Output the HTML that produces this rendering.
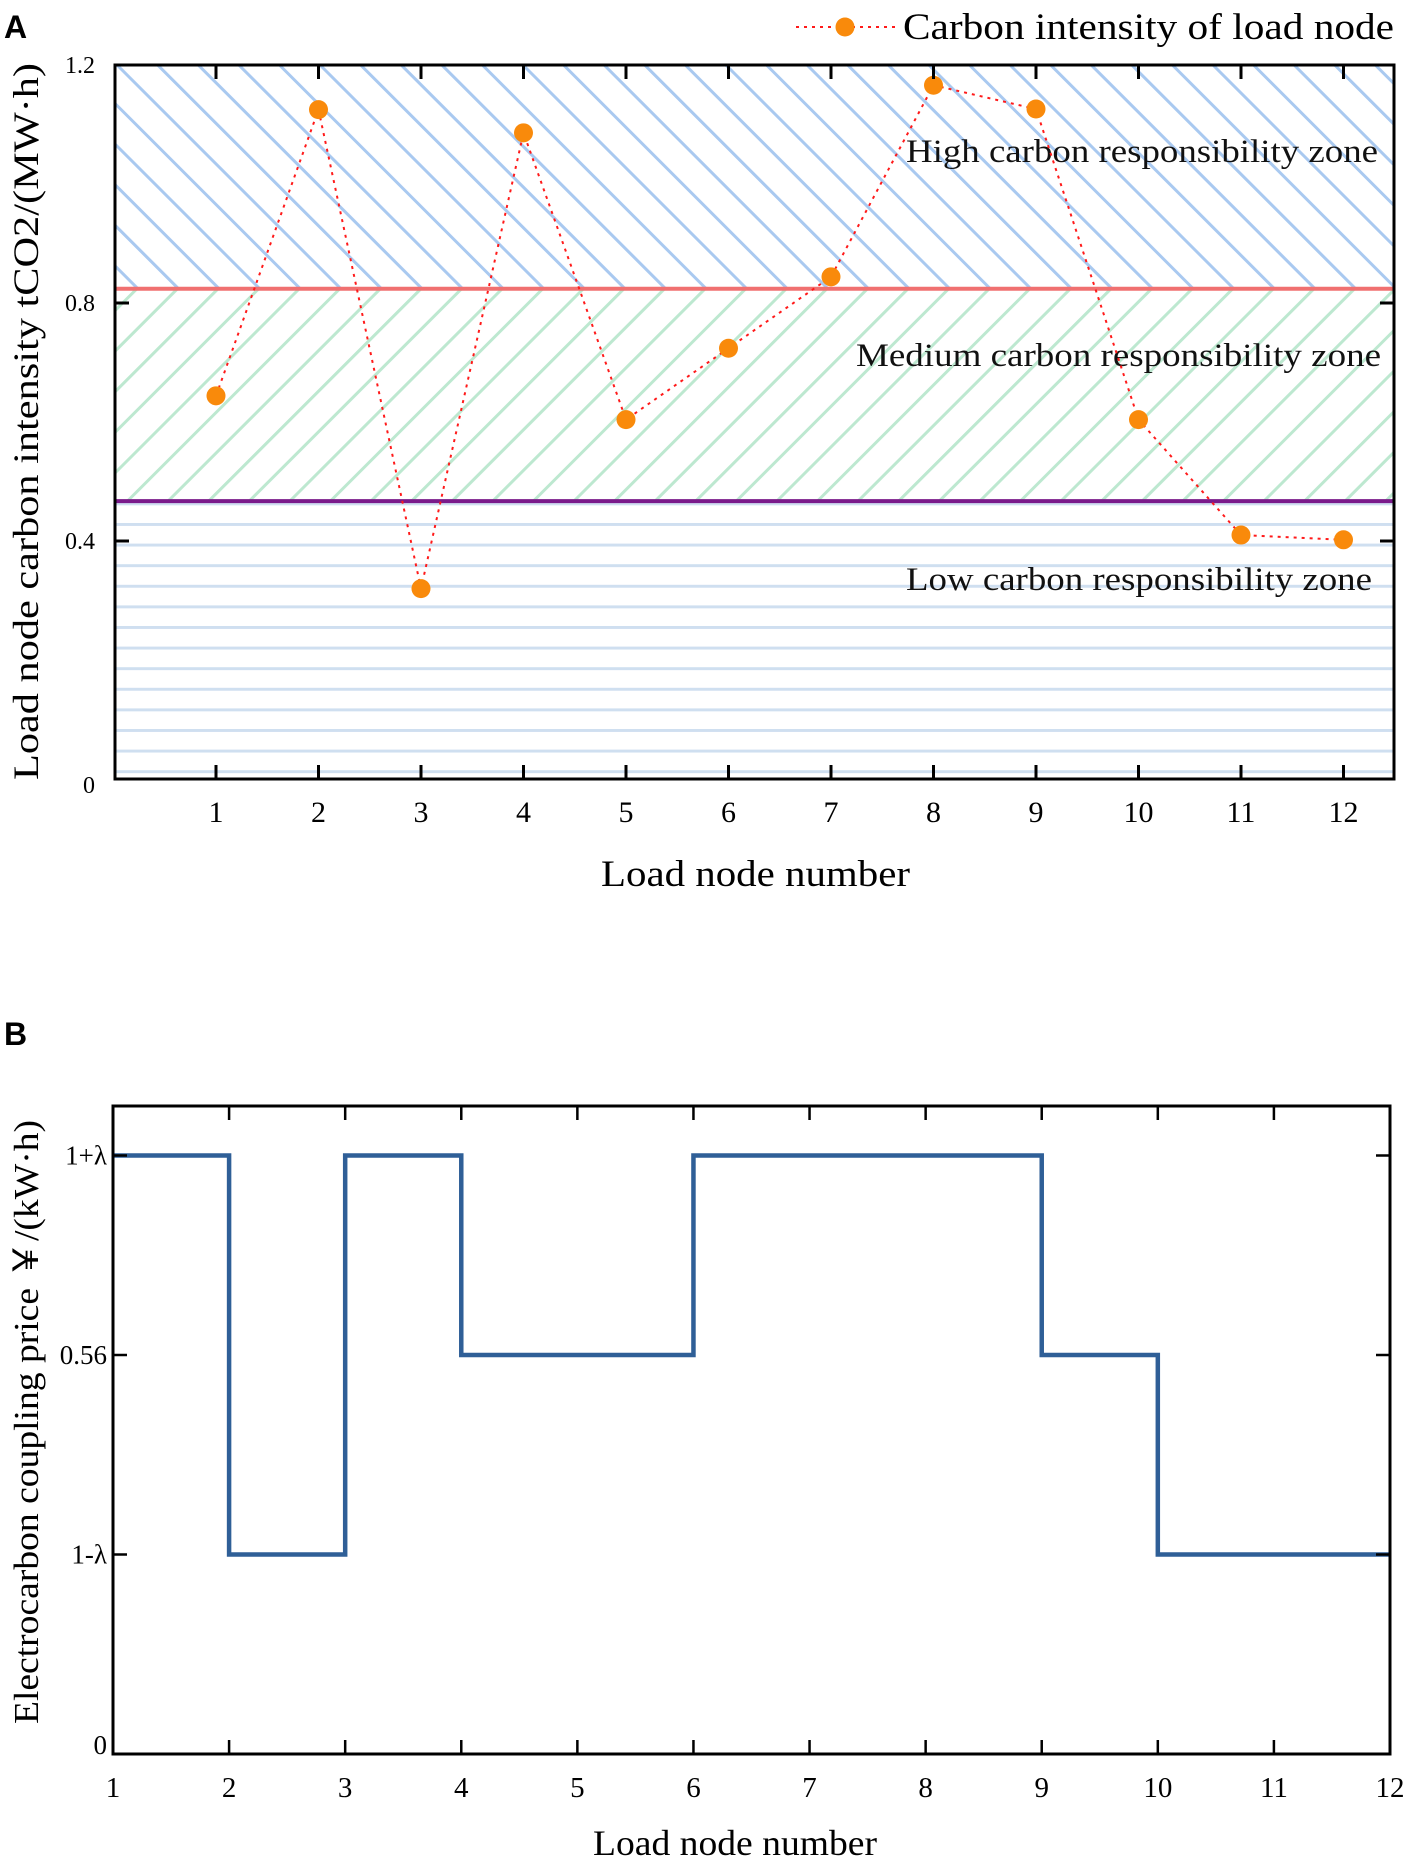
<!DOCTYPE html>
<html><head><meta charset="utf-8"><style>
html,body{margin:0;padding:0;background:#fff;}
svg{display:block;font-family:"Liberation Serif",serif;}
</style></head><body>
<svg id="fig" width="1408" height="1859" viewBox="0 0 1408 1859" xmlns="http://www.w3.org/2000/svg">
<defs>
<pattern id="hatchHigh" patternUnits="userSpaceOnUse" width="28.7" height="28.7" patternTransform="translate(115,65) rotate(-45)">
<line x1="0" y1="0" x2="0" y2="28.7" stroke="#a9c9f0" stroke-width="6"/>
</pattern>
<pattern id="hatchMed" patternUnits="userSpaceOnUse" width="28.7" height="28.7" patternTransform="translate(115,65) rotate(45)">
<line x1="0" y1="0" x2="0" y2="28.7" stroke="#bde8d0" stroke-width="6"/>
</pattern>
<pattern id="hatchLow" patternUnits="userSpaceOnUse" width="40" height="20.6" patternTransform="translate(0,523)">
<line x1="0" y1="0" x2="40" y2="0" stroke="#cfdff0" stroke-width="6"/>
</pattern>
</defs>
<g id="panelA"></g>
<g id="panelB"></g>
</svg>
<script>
// Panel A data
const nodesA = [1,2,3,4,5,6,7,8,9,10,11,12];
const intensityA = [0.644,1.125,0.32,1.086,0.604,0.724,0.844,1.166,1.126,0.604,0.41,0.402];
const yTicksA = [0,0.4,0.8,1.2];
const yTickLabelsA = ["0","0.4","0.8","1.2"];
const highThresholdA = 0.824;
const lowThresholdA = 0.467;
// Panel B data
const nodesB = [1,2,3,4,5,6,7,8,9,10,11,12];
const levelsB = [3,1,3,2,2,3,3,3,2,1,1,1];
const yTicksB = [0,1,2,3];
const yTickLabelsB = ["0","1-λ","0.56","1+λ"];

const NS = "http://www.w3.org/2000/svg";
function mk(parent, tag, attrs, text){
  const e = document.createElementNS(NS, tag);
  for (const k in attrs) e.setAttribute(k, attrs[k]);
  if (text !== undefined) e.textContent = text;
  parent.appendChild(e);
  return e;
}

// ---------- Panel A ----------
const A = document.getElementById('panelA');
const aL=115, aR=1394, aT=65, aB=779;
const xA = v => 216 + (v-1)*102.5;
const yA = v => aB - (v/1.2)*(aB-aT);

let t = mk(A,'text',{x:4,y:38,'font-family':'Liberation Sans, sans-serif','font-weight':'bold','font-size':32},'A');



let r = mk(A,'rect',{x:aL,y:aT,width:aR-aL,height:yA(highThresholdA)-aT,fill:'url(#hatchHigh)'});


r = mk(A,'rect',{x:aL,y:yA(highThresholdA),width:aR-aL,height:yA(lowThresholdA)-yA(highThresholdA),fill:'url(#hatchMed)'});


r = mk(A,'rect',{x:aL,y:yA(lowThresholdA),width:aR-aL,height:aB-yA(lowThresholdA),fill:'url(#hatchLow)'});



let l = mk(A,'line',{x1:aL,x2:aR,y1:yA(highThresholdA),y2:yA(highThresholdA),stroke:'#f07070','stroke-width':4});


l = mk(A,'line',{x1:aL,x2:aR,y1:yA(lowThresholdA),y2:yA(lowThresholdA),stroke:'#7a1a8a','stroke-width':4});



const zoneLabels = [["High carbon responsibility zone",906,162,472],["Medium carbon responsibility zone",856,366,525],["Low carbon responsibility zone",906,590,466]];
zoneLabels.forEach((z,i)=>{
  const e = mk(A,'text',{x:z[1],y:z[2],'font-size':33,fill:'#111',textLength:z[3],lengthAdjust:'spacingAndGlyphs'},z[0]);
  
  
});

let pts = nodesA.map((n,i)=>xA(n)+','+yA(intensityA[i])).join(' ');
let pl = mk(A,'polyline',{points:pts,fill:'none',stroke:'#ff1a1a','stroke-width':2,'stroke-dasharray':'3,5'});


nodesA.forEach((n,i)=>{
  const c = mk(A,'circle',{cx:xA(n),cy:yA(intensityA[i]),r:9.5,fill:'#f98a0b'});
  
  
});

let fr = mk(A,'rect',{x:aL,y:aT,width:aR-aL,height:aB-aT,fill:'none',stroke:'#000','stroke-width':3});



nodesA.forEach(n=>{
  mk(A,'line',{x1:xA(n),x2:xA(n),y1:aB,y2:aB-14,stroke:'#000','stroke-width':3});
  mk(A,'line',{x1:xA(n),x2:xA(n),y1:aT,y2:aT+14,stroke:'#000','stroke-width':3});
  const e = mk(A,'text',{x:xA(n),y:822,'text-anchor':'middle','font-size':30},String(n));
  
  
});
yTicksA.forEach((v,i)=>{
  mk(A,'line',{x1:aL,x2:aL+14,y1:yA(v),y2:yA(v),stroke:'#000','stroke-width':3});
  mk(A,'line',{x1:aR,x2:aR-14,y1:yA(v),y2:yA(v),stroke:'#000','stroke-width':3});
  const e = mk(A,'text',{x:aL-20,y:yA(v)+(v===0?14:8),'text-anchor':'end','font-size':24},yTickLabelsA[i]);
  
  
});

t = mk(A,'text',{x:601,y:886,'font-size':37,textLength:309,lengthAdjust:'spacingAndGlyphs'},'Load node number');


t = mk(A,'text',{x:0,y:0,'font-size':36,textLength:717,lengthAdjust:'spacingAndGlyphs',transform:'translate(38,780) rotate(-90)'},'Load node carbon intensity tCO2/(MW·h)');



const lg = mk(A,'g',{});


mk(lg,'line',{x1:796,x2:897,y1:27,y2:27,stroke:'#ff1a1a','stroke-width':2,'stroke-dasharray':'3,5'});
mk(lg,'circle',{cx:845,cy:27,r:9.5,fill:'#f98a0b'});
mk(lg,'text',{x:903,y:39,'font-size':37,textLength:491,lengthAdjust:'spacingAndGlyphs'},'Carbon intensity of load node');

// ---------- Panel B ----------
const B = document.getElementById('panelB');
const bL=113, bR=1390, bT=1106, bB=1754;
const xB = v => bL + (v-1)*(bR-bL)/11;
const yB = v => bB - v*199.5;

t = mk(B,'text',{x:4,y:1045,'font-family':'Liberation Sans, sans-serif','font-weight':'bold','font-size':32},'B');



let d = 'M'+xB(nodesB[0])+','+yB(levelsB[0]);
for (let i=0;i<nodesB.length-1;i++){
  d += ' H'+xB(nodesB[i+1]);
  if (i+1<nodesB.length-1) d += ' V'+yB(levelsB[i+1]);
}
let sp = mk(B,'path',{d:d,fill:'none',stroke:'#2f5f97','stroke-width':4.5});



fr = mk(B,'rect',{x:bL,y:bT,width:bR-bL,height:bB-bT,fill:'none',stroke:'#000','stroke-width':3});



nodesB.forEach(n=>{
  mk(B,'line',{x1:xB(n),x2:xB(n),y1:bB,y2:bB-14,stroke:'#000','stroke-width':2.5});
  mk(B,'line',{x1:xB(n),x2:xB(n),y1:bT,y2:bT+14,stroke:'#000','stroke-width':2.5});
  const e = mk(B,'text',{x:xB(n),y:1797,'text-anchor':'middle','font-size':29},String(n));
  
  
});
yTicksB.forEach((v,i)=>{
  mk(B,'line',{x1:bL,x2:bL+14,y1:yB(v),y2:yB(v),stroke:'#000','stroke-width':2.5});
  mk(B,'line',{x1:bR,x2:bR-14,y1:yB(v),y2:yB(v),stroke:'#000','stroke-width':2.5});
  const e = mk(B,'text',{x:bL-6,y:yB(v)+(v===0?0:9),'text-anchor':'end','font-size':27},yTickLabelsB[i]);
  
  
});

t = mk(B,'text',{x:593,y:1855,'font-size':36,textLength:284,lengthAdjust:'spacingAndGlyphs'},'Load node number');


t = mk(B,'text',{x:0,y:0,'font-size':35,textLength:604,lengthAdjust:'spacingAndGlyphs',transform:'translate(38,1724) rotate(-90)'},'Electrocarbon coupling price ￥/(kW·h)');


</script>
</body></html>
